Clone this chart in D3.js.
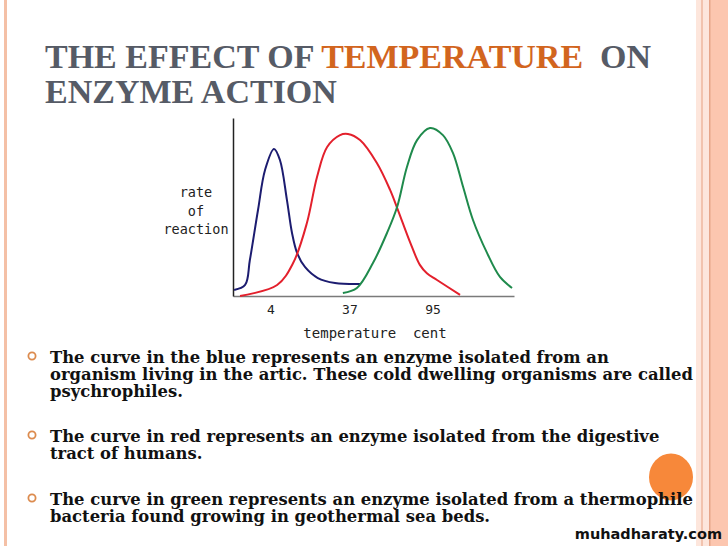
<!DOCTYPE html>
<html>
<head>
<meta charset="utf-8">
<script src="https://cdn.jsdelivr.net/npm/d3@7"></script>
<style>
  html, body { margin: 0; padding: 0; background: #fff; }
  svg { display: block; }
</style>
</head>
<body>
<svg width="728" height="546"></svg>
<script>
// curve points, x = position along the temperature axis (0-100), y = rate (0-100)
var blueTemp = [0.4, 4.3, 6.0, 8.9, 11.4, 14.6, 16.7, 19.2, 21.0, 22.8, 25.6, 30.2, 36.3, 45.2];
var blueRate = [3.4, 6.2, 20.2, 48.3, 70.8, 82.6, 76.4, 53.9, 35.4, 24.2, 16.3, 10.1, 7.3, 6.7];

var redTemp = [2.5, 15.7, 21.4, 26.3, 29.9, 33.5, 38.1, 40.9, 45.2, 51.2, 55.9, 58.7, 63.0, 66.5, 69.0, 72.6, 80.8];
var redRate = [0, 6.2, 18.5, 41.0, 66.9, 83.7, 90.4, 91.0, 87.6, 74.7, 59.6, 48.3, 30.3, 17.5, 12.8, 9.0, 0.6];

var greenTemp = [39.1, 44.1, 49.8, 54.8, 58.4, 61.9, 65.5, 70.1, 74.7, 78.3, 81.9, 85.4, 90.4, 95.0, 99.3];
var greenRate = [1.7, 4.5, 18.5, 35.4, 50.0, 72.5, 87.6, 94.4, 90.4, 80.3, 61.2, 42.7, 24.2, 10.7, 4.5];

var tickPos = [13.5, 41.6, 71.2];
var tickLabels = ["4", "37", "95"];

var bullets = [
  ["The curve in the blue represents an enzyme isolated from an",
   "organism living in the artic. These cold dwelling organisms are called",
   "psychrophiles."],
  ["The curve in red represents an enzyme isolated from the digestive",
   "tract of humans."],
  ["The curve in green represents an enzyme isolated from a thermophile",
   "bacteria found growing in geothermal sea beds."]
];

var svg = d3.select("svg");

// slide frame
svg.append("rect").attr("x", 4).attr("y", 0).attr("width", 3).attr("height", 546).attr("fill", "#f4c0a6");
svg.append("rect").attr("x", 696).attr("y", 0).attr("width", 32).attr("height", 546).attr("fill", "#fde6dc");
svg.append("rect").attr("x", 701).attr("y", 0).attr("width", 2).attr("height", 546).attr("fill", "#f2c3ae");
svg.append("rect").attr("x", 709).attr("y", 0).attr("width", 19).attr("height", 546).attr("fill", "#fcc6af");
svg.append("rect").attr("x", 709).attr("y", 0).attr("width", 1.5).attr("height", 546).attr("fill", "#e6a589");

// decoration circle (behind the text)
svg.append("ellipse").attr("cx", 671).attr("cy", 477).attr("rx", 22).attr("ry", 23.5).attr("fill", "#f7883a");

// title
var title = svg.append("text")
  .attr("font-family", "Liberation Serif, serif")
  .attr("font-weight", "bold")
  .attr("font-size", 34)
  .attr("fill", "#565b66");
var t1 = title.append("tspan").attr("x", 45).attr("y", 68);
t1.append("tspan").text("THE EFFECT OF ");
t1.append("tspan").attr("fill", "#d2651e").text("TEMPERATURE");
t1.append("tspan").text("\u00a0 ON");
title.append("tspan").attr("x", 45).attr("y", 103).text("ENZYME ACTION");

// chart
var margin = {left: 233, top: 118, right: 514, bottom: 296};
var x = d3.scaleLinear().domain([0, 100]).range([margin.left, margin.right]);
var y = d3.scaleLinear().domain([0, 100]).range([margin.bottom, margin.top]);

var line = d3.line()
  .x(function(d) { return x(d[0]); })
  .y(function(d) { return y(d[1]); })
  .curve(d3.curveCatmullRom.alpha(0.5));

var g = svg.append("g");

g.append("g")
  .attr("transform", "translate(0," + y(0) + ")")
  .call(d3.axisBottom(x).tickValues([]).tickSizeOuter(0))
  .select(".domain").attr("stroke", "#7a7a7a").attr("stroke-width", 1.5);

g.append("g")
  .attr("transform", "translate(" + x(0) + ",0)")
  .call(d3.axisLeft(y).tickValues([]).tickSizeOuter(0))
  .select(".domain").attr("stroke", "#222").attr("stroke-width", 1.5);

var series = [
  {temp: blueTemp, rate: blueRate, color: "#1c1c70"},
  {temp: redTemp, rate: redRate, color: "#e3202c"},
  {temp: greenTemp, rate: greenRate, color: "#1f8a4c"}
];

g.selectAll("path.curve")
  .data(series)
  .enter().append("path")
  .attr("class", "curve")
  .attr("fill", "none")
  .attr("stroke", function(d) { return d.color; })
  .attr("stroke-width", 2)
  .attr("d", function(d) { return line(d3.zip(d.temp, d.rate)); });

g.selectAll("text.tick")
  .data(tickLabels)
  .enter().append("text")
  .attr("class", "tick")
  .attr("x", function(d, i) { return x(tickPos[i]); })
  .attr("y", 314)
  .attr("text-anchor", "middle")
  .attr("font-family", "DejaVu Sans Mono, monospace")
  .attr("font-size", 13)
  .attr("fill", "#222")
  .text(function(d) { return d; });

g.append("text")
  .attr("x", 375)
  .attr("y", 338)
  .attr("text-anchor", "middle")
  .attr("xml:space", "preserve")
  .attr("font-family", "DejaVu Sans Mono, monospace")
  .attr("font-size", 14)
  .attr("fill", "#222")
  .text("temperature  cent");

var yl = g.append("text")
  .attr("text-anchor", "middle")
  .attr("font-family", "DejaVu Sans Mono, monospace")
  .attr("font-size", 13.5)
  .attr("fill", "#222");
["rate", "of", "reaction"].forEach(function(s, i) {
  yl.append("tspan").attr("x", 196).attr("y", 197 + i * 18.5).text(s);
});

// bullet text
var lineH = 16.8;
var starts = [363, 442, 505];
bullets.forEach(function(lines, bi) {
  svg.append("circle")
    .attr("cx", 32).attr("cy", starts[bi] - 7).attr("r", 3.6)
    .attr("fill", "none").attr("stroke", "#dc8b4e").attr("stroke-width", 1.8);
  var t = svg.append("text")
    .attr("font-family", "DejaVu Serif, serif")
    .attr("font-weight", "bold")
    .attr("font-size", 16.4)
    .attr("fill", "#111");
  lines.forEach(function(s, i) {
    t.append("tspan").attr("x", 50).attr("y", starts[bi] + i * lineH).text(s);
  });
});

// watermark
svg.append("text")
  .attr("x", 722).attr("y", 539)
  .attr("text-anchor", "end")
  .attr("font-family", "DejaVu Sans, sans-serif")
  .attr("font-weight", "bold")
  .attr("font-size", 14.5)
  .attr("fill", "#111")
  .text("muhadharaty.com");
</script>
</body>
</html>
